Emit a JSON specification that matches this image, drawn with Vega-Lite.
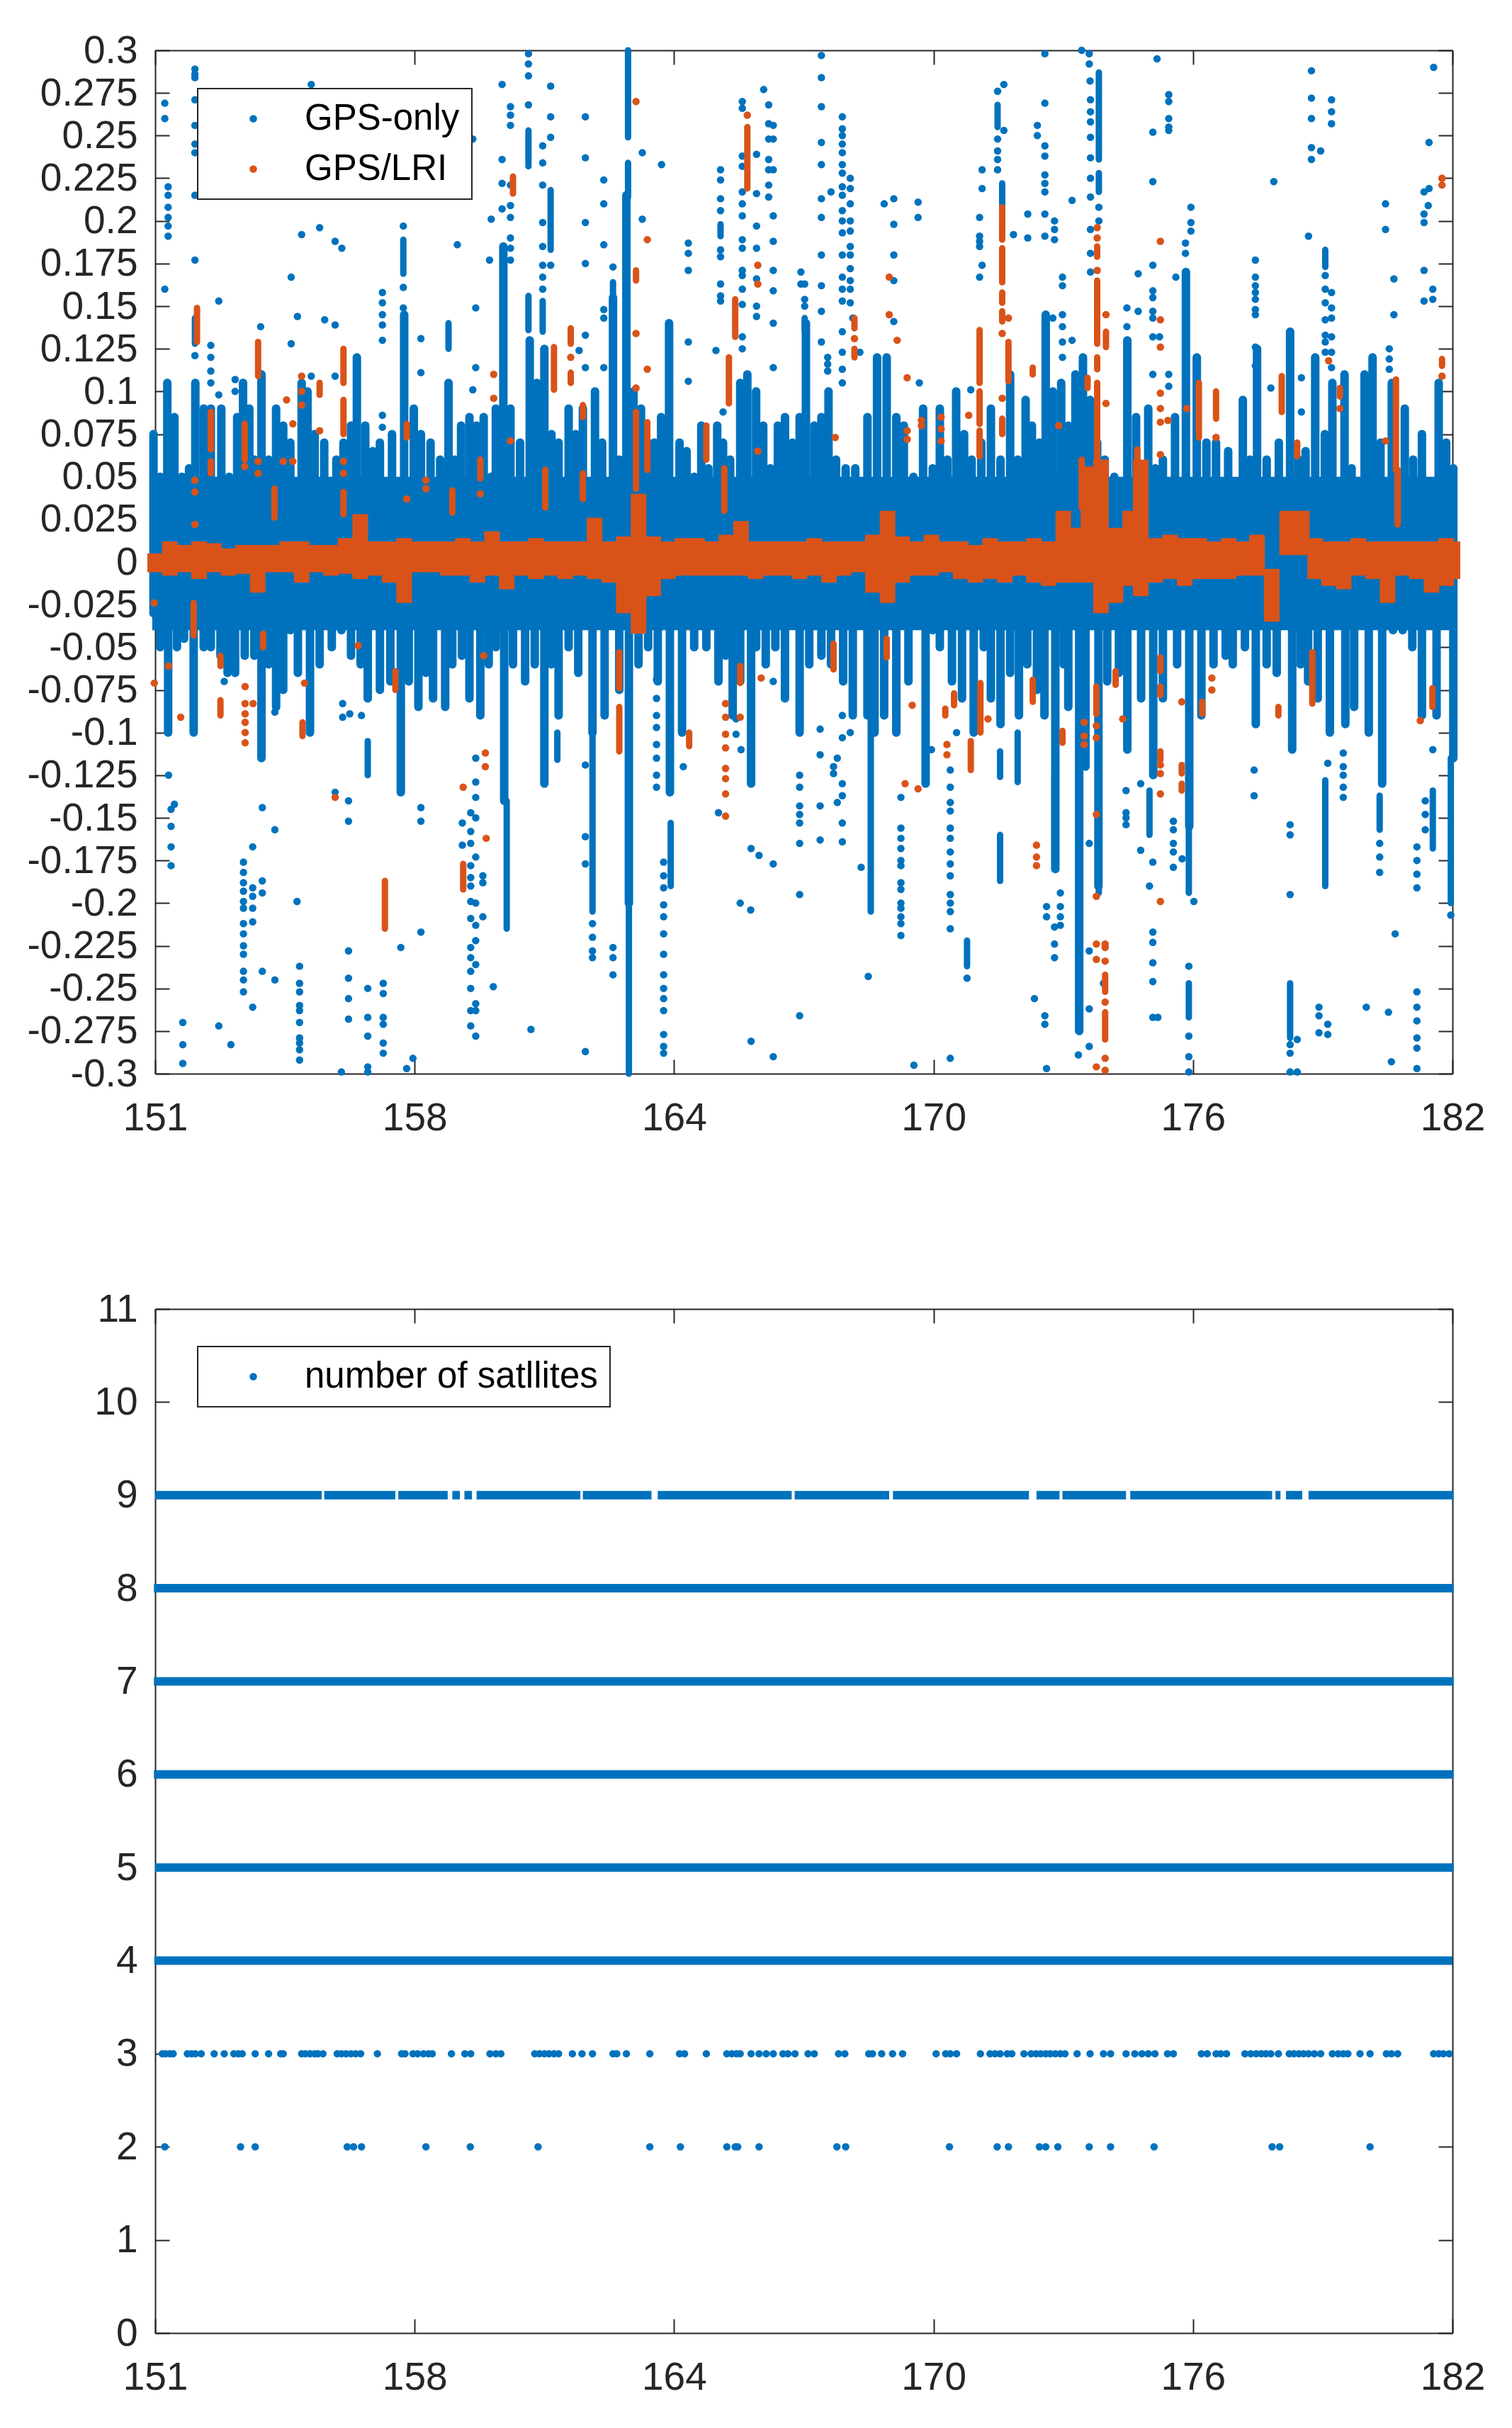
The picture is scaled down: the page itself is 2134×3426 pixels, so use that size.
{
"$schema":"https://vega.github.io/schema/vega-lite/v6.json",
"background":"white",
"autosize":{"type":"pad"},
"padding":{"left":38,"top":44,"right":10,"bottom":10},
"bounds":"flush",
"spacing":332,
"resolve":{"scale":{"color":"independent"},"legend":{"color":"independent"}},
"config":{
"view":{"stroke":null},
"legend":{"strokeWidth":2},
"axis":{"grid":false,"title":null,"domainColor":"#262626","domainWidth":2,"tickColor":"#262626","tickWidth":2,"tickSize":-20,"labelColor":"#262626","labelFont":"Liberation Sans","labelFontSize":55,"labelBound":false,"labelFlush":false,"labelOverlap":false}
},
"datasets":{
"band":[{"d":150.93,"d2":182.03,"lo":-0.04,"hi":0.05}],
"blueEnv":[
{"d":150.96,"v":0.075},{"d":151.12,"v":0.05},{"d":151.29,"v":0.105},{"d":151.46,"v":0.085},{"d":151.64,"v":0.05},{"d":151.81,"v":0.055},{"d":151.96,"v":0.105},{"d":152.16,"v":0.09},{"d":152.33,"v":0.09},{"d":152.58,"v":0.09},{"d":152.77,"v":0.05},{"d":152.96,"v":0.085},{"d":153.1,"v":0.105},{"d":153.25,"v":0.09},{"d":153.37,"v":0.06},{"d":153.54,"v":0.11},{"d":153.71,"v":0.06},{"d":153.89,"v":0.09},{"d":154.06,"v":0.08},{"d":154.23,"v":0.07},{"d":154.5,"v":0.105},{"d":154.64,"v":0.1},{"d":154.81,"v":0.075},{"d":155.04,"v":0.07},{"d":155.33,"v":0.06},{"d":155.5,"v":0.07},{"d":155.68,"v":0.08},{"d":155.82,"v":0.12},{"d":156.02,"v":0.08},{"d":156.2,"v":0.065},{"d":156.37,"v":0.07},{"d":156.66,"v":0.075},{"d":156.95,"v":0.145},{"d":157.18,"v":0.09},{"d":157.35,"v":0.075},{"d":157.58,"v":0.07},{"d":157.81,"v":0.06},{"d":158.01,"v":0.105},{"d":158.16,"v":0.06},{"d":158.31,"v":0.08},{"d":158.51,"v":0.085},{"d":158.68,"v":0.08},{"d":158.85,"v":0.085},{"d":159.03,"v":0.05},{"d":159.14,"v":0.09},{"d":159.32,"v":0.185},{"d":159.49,"v":0.09},{"d":159.72,"v":0.07},{"d":159.95,"v":0.13},{"d":160.12,"v":0.105},{"d":160.3,"v":0.125},{"d":160.47,"v":0.075},{"d":160.64,"v":0.07},{"d":160.88,"v":0.09},{"d":161.05,"v":0.075},{"d":161.22,"v":0.09},{"d":161.51,"v":0.1},{"d":161.68,"v":0.07},{"d":161.94,"v":0.155},{"d":162.09,"v":0.06},{"d":162.26,"v":0.215},{"d":162.43,"v":0.1},{"d":162.61,"v":0.09},{"d":162.78,"v":0.07},{"d":162.93,"v":0.07},{"d":163.09,"v":0.085},{"d":163.28,"v":0.14},{"d":163.53,"v":0.07},{"d":163.7,"v":0.065},{"d":163.88,"v":0.05},{"d":164.05,"v":0.08},{"d":164.22,"v":0.055},{"d":164.43,"v":0.08},{"d":164.57,"v":0.07},{"d":164.74,"v":0.06},{"d":164.98,"v":0.105},{"d":165.15,"v":0.11},
{"d":165.36,"v":0.1},{"d":165.53,"v":0.08},{"d":165.7,"v":0.055},{"d":165.88,"v":0.08},{"d":166.05,"v":0.085},{"d":166.23,"v":0.07},{"d":166.4,"v":0.085},{"d":166.55,"v":0.14},{"d":166.75,"v":0.08},{"d":166.92,"v":0.085},{"d":167.09,"v":0.1},{"d":167.27,"v":0.06},{"d":167.5,"v":0.055},{"d":167.73,"v":0.055},{"d":168.02,"v":0.085},{"d":168.25,"v":0.12},{"d":168.48,"v":0.12},{"d":168.71,"v":0.085},{"d":168.89,"v":0.08},{"d":169.12,"v":0.05},{"d":169.35,"v":0.09},{"d":169.58,"v":0.055},{"d":169.75,"v":0.09},{"d":169.93,"v":0.06},{"d":170.14,"v":0.1},{"d":170.33,"v":0.075},{"d":170.51,"v":0.06},{"d":170.74,"v":0.07},{"d":170.97,"v":0.09},{"d":171.2,"v":0.06},{"d":171.43,"v":0.11},{"d":171.61,"v":0.06},{"d":171.8,"v":0.095},{"d":171.95,"v":0.08},{"d":172.13,"v":0.07},{"d":172.28,"v":0.145},{"d":172.45,"v":0.1},{"d":172.65,"v":0.105},{"d":172.82,"v":0.08},{"d":172.99,"v":0.11},{"d":173.17,"v":0.12},{"d":173.34,"v":0.095},{"d":173.51,"v":0.07},{"d":173.69,"v":0.06},{"d":173.92,"v":0.05},{"d":174.23,"v":0.13},{"d":174.44,"v":0.085},{"d":174.73,"v":0.09},{"d":174.9,"v":0.055},{"d":175.08,"v":0.06},{"d":175.37,"v":0.085},{"d":175.63,"v":0.17},{"d":175.89,"v":0.12},{"d":176.12,"v":0.07},{"d":176.35,"v":0.07},{"d":176.64,"v":0.065},{"d":176.99,"v":0.095},{"d":177.16,"v":0.06},{"d":177.33,"v":0.125},{"d":177.56,"v":0.06},{"d":177.85,"v":0.07},{"d":178.12,"v":0.135},{"d":178.32,"v":0.06},{"d":178.49,"v":0.065},{"d":178.72,"v":0.12},{"d":178.95,"v":0.075},{"d":179.13,"v":0.105},{"d":179.42,"v":0.11},{"d":179.59,"v":0.055},{"d":179.9,"v":0.11},{"d":180.09,"v":0.12},{"d":180.28,"v":0.07},{"d":180.55,"v":0.105},{"d":180.86,"v":0.09},{"d":181.06,"v":0.06},{"d":181.27,"v":0.075},{"d":181.67,"v":0.105},{"d":181.85,"v":0.07},{"d":182.02,"v":0.055},
{"d":150.96,"v":-0.03},{"d":151.12,"v":-0.05},{"d":151.31,"v":-0.1},{"d":151.52,"v":-0.05},{"d":151.69,"v":-0.045},{"d":151.92,"v":-0.1},{"d":152.16,"v":-0.05},{"d":152.33,"v":-0.05},{"d":152.56,"v":-0.055},{"d":152.73,"v":-0.065},{"d":152.91,"v":-0.065},{"d":153.14,"v":-0.055},{"d":153.37,"v":-0.055},{"d":153.54,"v":-0.115},{"d":153.71,"v":-0.06},{"d":153.89,"v":-0.085},{"d":154.06,"v":-0.075},{"d":154.23,"v":-0.04},{"d":154.41,"v":-0.065},{"d":154.7,"v":-0.1},{"d":154.93,"v":-0.06},{"d":155.22,"v":-0.05},{"d":155.45,"v":-0.04},{"d":155.68,"v":-0.055},{"d":155.91,"v":-0.06},{"d":156.08,"v":-0.08},{"d":156.37,"v":-0.075},{"d":156.62,"v":-0.07},{"d":156.87,"v":-0.135},{"d":157.06,"v":-0.07},{"d":157.29,"v":-0.085},{"d":157.47,"v":-0.065},{"d":157.64,"v":-0.08},{"d":157.93,"v":-0.085},{"d":158.1,"v":-0.06},{"d":158.33,"v":-0.055},{"d":158.51,"v":-0.08},{"d":158.77,"v":-0.09},{"d":158.97,"v":-0.06},{"d":159.14,"v":-0.05},{"d":159.34,"v":-0.14},{"d":159.55,"v":-0.06},{"d":159.84,"v":-0.07},{"d":160.07,"v":-0.06},{"d":160.3,"v":-0.13},{"d":160.47,"v":-0.06},{"d":160.64,"v":-0.09},{"d":160.88,"v":-0.05},{"d":161.11,"v":-0.065},{"d":161.45,"v":-0.1},{"d":161.74,"v":-0.09},{"d":162.09,"v":-0.075},{"d":162.32,"v":-0.2},{"d":162.55,"v":-0.06},{"d":162.78,"v":-0.05},{"d":163.01,"v":-0.07},{"d":163.3,"v":-0.135},{"d":163.59,"v":-0.1},{"d":163.88,"v":-0.05},{"d":164.17,"v":-0.05},{"d":164.46,"v":-0.07},{"d":164.63,"v":-0.055},{"d":164.8,"v":-0.09},{"d":164.98,"v":-0.07},{"d":165.24,"v":-0.13},
{"d":165.36,"v":-0.05},{"d":165.59,"v":-0.06},{"d":165.82,"v":-0.05},{"d":166.05,"v":-0.08},{"d":166.4,"v":-0.1},{"d":166.63,"v":-0.06},{"d":166.92,"v":-0.055},{"d":167.15,"v":-0.06},{"d":167.44,"v":-0.07},{"d":167.67,"v":-0.09},{"d":168.02,"v":-0.09},{"d":168.19,"v":-0.1},{"d":168.42,"v":-0.09},{"d":168.71,"v":-0.1},{"d":169.0,"v":-0.07},{"d":169.41,"v":-0.13},{"d":169.58,"v":-0.04},{"d":169.75,"v":-0.05},{"d":170.04,"v":-0.07},{"d":170.28,"v":-0.08},{"d":170.56,"v":-0.1},{"d":170.8,"v":-0.05},{"d":170.97,"v":-0.08},{"d":171.2,"v":-0.095},{"d":171.43,"v":-0.065},{"d":171.64,"v":-0.09},{"d":171.84,"v":-0.06},{"d":172.07,"v":-0.075},{"d":172.25,"v":-0.09},{"d":172.51,"v":-0.18},{"d":172.71,"v":-0.06},{"d":172.82,"v":-0.085},{"d":173.08,"v":-0.275},{"d":173.23,"v":-0.12},{"d":173.54,"v":-0.19},{"d":173.75,"v":-0.07},{"d":174.03,"v":-0.065},{"d":174.23,"v":-0.11},{"d":174.56,"v":-0.08},{"d":174.85,"v":-0.125},{"d":175.08,"v":-0.08},{"d":175.42,"v":-0.06},{"d":175.71,"v":-0.155},{"d":176.0,"v":-0.09},{"d":176.29,"v":-0.06},{"d":176.58,"v":-0.055},{"d":176.75,"v":-0.06},{"d":177.04,"v":-0.05},{"d":177.3,"v":-0.095},{"d":177.56,"v":-0.06},{"d":177.8,"v":-0.065},{"d":178.17,"v":-0.11},{"d":178.37,"v":-0.06},{"d":178.55,"v":-0.07},{"d":178.78,"v":-0.08},{"d":179.07,"v":-0.1},{"d":179.44,"v":-0.095},{"d":179.65,"v":-0.085},{"d":180.0,"v":-0.1},{"d":180.32,"v":-0.13},{"d":180.58,"v":-0.04},{"d":180.81,"v":-0.04},{"d":181.04,"v":-0.05},{"d":181.27,"v":-0.09},{"d":181.62,"v":-0.09},{"d":182.02,"v":-0.115}
],
"blueStr":[
{"d":151.95,"a":0.128,"b":0.143},{"d":153.52,"a":0.07,"b":0.11},{"d":156.93,"a":0.169,"b":0.189},{"d":158.01,"a":0.125,"b":0.14},{"d":159.92,"a":0.232,"b":0.253},{"d":159.92,"a":0.136,"b":0.156},{"d":160.26,"a":0.135,"b":0.153},{"d":160.45,"a":0.183,"b":0.218},{"d":161.94,"a":0.153,"b":0.164},{"d":162.3,"a":0.249,"b":0.3},{"d":162.3,"a":0.214,"b":0.234},{"d":164.51,"a":0.191,"b":0.198},{"d":166.52,"a":0.136,"b":0.143},{"d":171.13,"a":0.255,"b":0.268},{"d":171.24,"a":0.196,"b":0.222},{"d":173.55,"a":0.236,"b":0.287},{"d":173.55,"a":0.217,"b":0.228},{"d":178.96,"a":0.173,"b":0.183},
{"d":156.08,"a":-0.125,"b":-0.105},{"d":159.4,"a":-0.215,"b":-0.14},{"d":160.61,"a":-0.116,"b":-0.1},{"d":161.45,"a":-0.205,"b":-0.1},{"d":162.32,"a":-0.3,"b":-0.2},{"d":163.32,"a":-0.19,"b":-0.153},{"d":168.1,"a":-0.205,"b":-0.09},{"d":169.42,"a":-0.13,"b":-0.094},{"d":170.4,"a":-0.237,"b":-0.222},{"d":171.19,"a":-0.126,"b":-0.111},{"d":171.19,"a":-0.187,"b":-0.16},{"d":171.61,"a":-0.129,"b":-0.1},{"d":172.49,"a":-0.18,"b":-0.125},{"d":173.06,"a":-0.275,"b":-0.1},{"d":173.55,"a":-0.194,"b":-0.115},{"d":174.76,"a":-0.16,"b":-0.134},{"d":175.7,"a":-0.194,"b":-0.155},{"d":175.7,"a":-0.267,"b":-0.247},{"d":178.12,"a":-0.279,"b":-0.247},{"d":178.96,"a":-0.19,"b":-0.128},{"d":180.26,"a":-0.157,"b":-0.137},{"d":181.53,"a":-0.168,"b":-0.134},{"d":181.96,"a":-0.2,"b":-0.115}
],
"pts":[
{"d":151.23,"v":0.269,"s":"GPS-only"},{"d":151.23,"v":0.26,"s":"GPS-only"},{"d":151.23,"v":0.16,"s":"GPS-only"},{"d":151.31,"v":0.22,"s":"GPS-only"},{"d":151.31,"v":0.215,"s":"GPS-only"},{"d":151.31,"v":0.208,"s":"GPS-only"},{"d":151.31,"v":0.202,"s":"GPS-only"},{"d":151.31,"v":0.197,"s":"GPS-only"},{"d":151.31,"v":0.191,"s":"GPS-only"},{"d":151.95,"v":0.289,"s":"GPS-only"},{"d":151.95,"v":0.286,"s":"GPS-only"},{"d":151.95,"v":0.284,"s":"GPS-only"},{"d":151.95,"v":0.271,"s":"GPS-only"},{"d":151.95,"v":0.256,"s":"GPS-only"},{"d":151.95,"v":0.245,"s":"GPS-only"},{"d":151.95,"v":0.24,"s":"GPS-only"},{"d":151.95,"v":0.215,"s":"GPS-only"},{"d":151.95,"v":0.177,"s":"GPS-only"},{"d":151.95,"v":0.121,"s":"GPS-only"},{"d":152.33,"v":0.127,"s":"GPS-only"},{"d":152.33,"v":0.12,"s":"GPS-only"},{"d":152.33,"v":0.112,"s":"GPS-only"},{"d":152.33,"v":0.105,"s":"GPS-only"},{"d":152.52,"v":0.153,"s":"GPS-only"},{"d":152.52,"v":0.098,"s":"GPS-only"},{"d":152.91,"v":0.107,"s":"GPS-only"},{"d":152.91,"v":0.1,"s":"GPS-only"},{"d":153.52,"v":0.138,"s":"GPS-only"},{"d":154.25,"v":0.167,"s":"GPS-only"},{"d":154.25,"v":0.128,"s":"GPS-only"},{"d":154.4,"v":0.144,"s":"GPS-only"},{"d":154.5,"v":0.192,"s":"GPS-only"},{"d":154.73,"v":0.28,"s":"GPS-only"},{"d":154.73,"v":0.109,"s":"GPS-only"},{"d":154.93,"v":0.196,"s":"GPS-only"},{"d":155.05,"v":0.142,"s":"GPS-only"},{"d":155.3,"v":0.188,"s":"GPS-only"},{"d":155.3,"v":0.139,"s":"GPS-only"},{"d":155.3,"v":0.109,"s":"GPS-only"},{"d":155.46,"v":0.184,"s":"GPS-only"},{"d":156.43,"v":0.158,"s":"GPS-only"},{"d":156.43,"v":0.152,"s":"GPS-only"},{"d":156.43,"v":0.145,"s":"GPS-only"},{"d":156.43,"v":0.139,"s":"GPS-only"},{"d":156.43,"v":0.13,"s":"GPS-only"},{"d":156.43,"v":0.086,"s":"GPS-only"},{"d":156.43,"v":0.079,"s":"GPS-only"},{"d":156.93,"v":0.197,"s":"GPS-only"},{"d":156.93,"v":0.161,"s":"GPS-only"},{"d":156.93,"v":0.149,"s":"GPS-only"},{"d":157.35,"v":0.131,"s":"GPS-only"},{"d":157.35,"v":0.111,"s":"GPS-only"},{"d":158.22,"v":0.186,"s":"GPS-only"},{"d":158.59,"v":0.248,"s":"GPS-only"},{"d":158.59,"v":0.101,"s":"GPS-only"},{"d":158.66,"v":0.149,"s":"GPS-only"},{"d":158.66,"v":0.114,"s":"GPS-only"},{"d":158.99,"v":0.177,"s":"GPS-only"},{"d":159.03,"v":0.201,"s":"GPS-only"},{"d":159.29,"v":0.28,"s":"GPS-only"},{"d":159.29,"v":0.236,"s":"GPS-only"},{"d":159.29,"v":0.222,"s":"GPS-only"},{"d":159.29,"v":0.207,"s":"GPS-only"},{"d":159.49,"v":0.267,"s":"GPS-only"},{"d":159.49,"v":0.262,"s":"GPS-only"},{"d":159.49,"v":0.256,"s":"GPS-only"},{"d":159.49,"v":0.221,"s":"GPS-only"},{"d":159.49,"v":0.209,"s":"GPS-only"},{"d":159.49,"v":0.202,"s":"GPS-only"},{"d":159.49,"v":0.19,"s":"GPS-only"},{"d":159.49,"v":0.184,"s":"GPS-only"},{"d":159.49,"v":0.177,"s":"GPS-only"},{"d":159.92,"v":0.298,"s":"GPS-only"},{"d":159.92,"v":0.292,"s":"GPS-only"},{"d":159.92,"v":0.285,"s":"GPS-only"},{"d":159.92,"v":0.268,"s":"GPS-only"},{"d":160.26,"v":0.244,"s":"GPS-only"},{"d":160.26,"v":0.234,"s":"GPS-only"},{"d":160.26,"v":0.221,"s":"GPS-only"},{"d":160.26,"v":0.199,"s":"GPS-only"},{"d":160.26,"v":0.185,"s":"GPS-only"},{"d":160.26,"v":0.174,"s":"GPS-only"},{"d":160.26,"v":0.167,"s":"GPS-only"},{"d":160.26,"v":0.16,"s":"GPS-only"},{"d":160.45,"v":0.279,"s":"GPS-only"},{"d":160.45,"v":0.261,"s":"GPS-only"},{"d":160.45,"v":0.249,"s":"GPS-only"},{"d":160.45,"v":0.174,"s":"GPS-only"},{"d":161.13,"v":0.124,"s":"GPS-only"},{"d":161.28,"v":0.261,"s":"GPS-only"},{"d":161.28,"v":0.237,"s":"GPS-only"},{"d":161.28,"v":0.199,"s":"GPS-only"},{"d":161.28,"v":0.175,"s":"GPS-only"},{"d":161.28,"v":0.133,"s":"GPS-only"},{"d":161.28,"v":0.114,"s":"GPS-only"},{"d":161.72,"v":0.224,"s":"GPS-only"},{"d":161.72,"v":0.21,"s":"GPS-only"},{"d":161.72,"v":0.186,"s":"GPS-only"},{"d":161.72,"v":0.148,"s":"GPS-only"},{"d":161.72,"v":0.143,"s":"GPS-only"},{"d":161.72,"v":0.114,"s":"GPS-only"},{"d":161.94,"v":0.173,"s":"GPS-only"},{"d":162.64,"v":0.24,"s":"GPS-only"},{"d":162.64,"v":0.201,"s":"GPS-only"},{"d":163.1,"v":0.233,"s":"GPS-only"},{"d":163.74,"v":0.187,"s":"GPS-only"},{"d":163.74,"v":0.181,"s":"GPS-only"},{"d":163.74,"v":0.171,"s":"GPS-only"},{"d":163.74,"v":0.129,"s":"GPS-only"},{"d":163.74,"v":0.106,"s":"GPS-only"},{"d":164.4,"v":0.124,"s":"GPS-only"},{"d":164.51,"v":0.23,"s":"GPS-only"},{"d":164.51,"v":0.224,"s":"GPS-only"},{"d":164.51,"v":0.213,"s":"GPS-only"},{"d":164.51,"v":0.206,"s":"GPS-only"},{"d":164.51,"v":0.183,"s":"GPS-only"},{"d":164.51,"v":0.179,"s":"GPS-only"},{"d":164.51,"v":0.163,"s":"GPS-only"},{"d":164.51,"v":0.156,"s":"GPS-only"},{"d":164.51,"v":0.153,"s":"GPS-only"},{"d":164.57,"v":0.088,"s":"GPS-only"},{"d":165.03,"v":0.27,"s":"GPS-only"},{"d":165.03,"v":0.266,"s":"GPS-only"},{"d":165.03,"v":0.238,"s":"GPS-only"},{"d":165.03,"v":0.232,"s":"GPS-only"},{"d":165.03,"v":0.217,"s":"GPS-only"},{"d":165.03,"v":0.21,"s":"GPS-only"},{"d":165.03,"v":0.203,"s":"GPS-only"},{"d":165.03,"v":0.189,"s":"GPS-only"},{"d":165.03,"v":0.184,"s":"GPS-only"},{"d":165.03,"v":0.171,"s":"GPS-only"},{"d":165.03,"v":0.168,"s":"GPS-only"},{"d":165.03,"v":0.16,"s":"GPS-only"},{"d":165.03,"v":0.151,"s":"GPS-only"},{"d":165.03,"v":0.132,"s":"GPS-only"},{"d":165.03,"v":0.125,"s":"GPS-only"},
{"d":165.37,"v":0.239,"s":"GPS-only"},{"d":165.37,"v":0.216,"s":"GPS-only"},{"d":165.37,"v":0.197,"s":"GPS-only"},{"d":165.37,"v":0.184,"s":"GPS-only"},{"d":165.37,"v":0.166,"s":"GPS-only"},{"d":165.37,"v":0.15,"s":"GPS-only"},{"d":165.37,"v":0.144,"s":"GPS-only"},{"d":165.54,"v":0.277,"s":"GPS-only"},{"d":165.66,"v":0.268,"s":"GPS-only"},{"d":165.66,"v":0.257,"s":"GPS-only"},{"d":165.77,"v":0.256,"s":"GPS-only"},{"d":165.77,"v":0.248,"s":"GPS-only"},{"d":165.66,"v":0.248,"s":"GPS-only"},{"d":165.66,"v":0.236,"s":"GPS-only"},{"d":165.66,"v":0.23,"s":"GPS-only"},{"d":165.77,"v":0.23,"s":"GPS-only"},{"d":165.66,"v":0.221,"s":"GPS-only"},{"d":165.66,"v":0.214,"s":"GPS-only"},{"d":165.77,"v":0.203,"s":"GPS-only"},{"d":165.77,"v":0.188,"s":"GPS-only"},{"d":165.77,"v":0.171,"s":"GPS-only"},{"d":165.77,"v":0.159,"s":"GPS-only"},{"d":165.77,"v":0.14,"s":"GPS-only"},{"d":165.77,"v":0.114,"s":"GPS-only"},{"d":166.43,"v":0.17,"s":"GPS-only"},{"d":166.43,"v":0.163,"s":"GPS-only"},{"d":166.52,"v":0.163,"s":"GPS-only"},{"d":166.52,"v":0.154,"s":"GPS-only"},{"d":166.52,"v":0.15,"s":"GPS-only"},{"d":166.92,"v":0.297,"s":"GPS-only"},{"d":166.92,"v":0.284,"s":"GPS-only"},{"d":166.92,"v":0.267,"s":"GPS-only"},{"d":166.92,"v":0.246,"s":"GPS-only"},{"d":166.92,"v":0.233,"s":"GPS-only"},{"d":166.92,"v":0.213,"s":"GPS-only"},{"d":166.92,"v":0.202,"s":"GPS-only"},{"d":166.92,"v":0.18,"s":"GPS-only"},{"d":166.92,"v":0.162,"s":"GPS-only"},{"d":166.92,"v":0.147,"s":"GPS-only"},{"d":166.92,"v":0.129,"s":"GPS-only"},{"d":167.07,"v":0.12,"s":"GPS-only"},{"d":167.07,"v":0.116,"s":"GPS-only"},{"d":167.07,"v":0.112,"s":"GPS-only"},{"d":167.15,"v":0.217,"s":"GPS-only"},{"d":167.42,"v":0.261,"s":"GPS-only"},{"d":167.42,"v":0.254,"s":"GPS-only"},{"d":167.42,"v":0.25,"s":"GPS-only"},{"d":167.42,"v":0.245,"s":"GPS-only"},{"d":167.42,"v":0.24,"s":"GPS-only"},{"d":167.42,"v":0.233,"s":"GPS-only"},{"d":167.42,"v":0.228,"s":"GPS-only"},{"d":167.42,"v":0.22,"s":"GPS-only"},{"d":167.42,"v":0.215,"s":"GPS-only"},{"d":167.42,"v":0.206,"s":"GPS-only"},{"d":167.42,"v":0.2,"s":"GPS-only"},{"d":167.42,"v":0.193,"s":"GPS-only"},{"d":167.42,"v":0.18,"s":"GPS-only"},{"d":167.42,"v":0.167,"s":"GPS-only"},{"d":167.42,"v":0.16,"s":"GPS-only"},{"d":167.42,"v":0.153,"s":"GPS-only"},{"d":167.42,"v":0.135,"s":"GPS-only"},{"d":167.42,"v":0.123,"s":"GPS-only"},{"d":167.42,"v":0.113,"s":"GPS-only"},{"d":167.42,"v":0.105,"s":"GPS-only"},{"d":167.61,"v":0.225,"s":"GPS-only"},{"d":167.61,"v":0.219,"s":"GPS-only"},{"d":167.61,"v":0.21,"s":"GPS-only"},{"d":167.61,"v":0.2,"s":"GPS-only"},{"d":167.61,"v":0.194,"s":"GPS-only"},{"d":167.61,"v":0.185,"s":"GPS-only"},{"d":167.61,"v":0.18,"s":"GPS-only"},{"d":167.61,"v":0.172,"s":"GPS-only"},{"d":167.61,"v":0.165,"s":"GPS-only"},{"d":167.61,"v":0.16,"s":"GPS-only"},{"d":167.61,"v":0.152,"s":"GPS-only"},{"d":167.67,"v":0.143,"s":"GPS-only"},{"d":167.84,"v":0.123,"s":"GPS-only"},{"d":168.42,"v":0.21,"s":"GPS-only"},{"d":168.65,"v":0.213,"s":"GPS-only"},{"d":168.65,"v":0.198,"s":"GPS-only"},{"d":168.65,"v":0.18,"s":"GPS-only"},{"d":168.65,"v":0.165,"s":"GPS-only"},{"d":168.65,"v":0.141,"s":"GPS-only"},{"d":169.23,"v":0.211,"s":"GPS-only"},{"d":169.23,"v":0.202,"s":"GPS-only"},{"d":169.26,"v":0.105,"s":"GPS-only"},{"d":170.49,"v":0.101,"s":"GPS-only"},{"d":170.76,"v":0.23,"s":"GPS-only"},{"d":170.76,"v":0.219,"s":"GPS-only"},{"d":170.76,"v":0.174,"s":"GPS-only"},{"d":170.7,"v":0.202,"s":"GPS-only"},{"d":170.7,"v":0.191,"s":"GPS-only"},{"d":170.7,"v":0.188,"s":"GPS-only"},{"d":170.7,"v":0.185,"s":"GPS-only"},{"d":170.7,"v":0.167,"s":"GPS-only"},{"d":171.13,"v":0.276,"s":"GPS-only"},{"d":171.28,"v":0.28,"s":"GPS-only"},{"d":171.28,"v":0.253,"s":"GPS-only"},{"d":171.13,"v":0.248,"s":"GPS-only"},{"d":171.13,"v":0.241,"s":"GPS-only"},{"d":171.13,"v":0.236,"s":"GPS-only"},{"d":171.13,"v":0.23,"s":"GPS-only"},{"d":171.51,"v":0.192,"s":"GPS-only"},{"d":171.85,"v":0.204,"s":"GPS-only"},{"d":171.85,"v":0.19,"s":"GPS-only"},{"d":172.08,"v":0.256,"s":"GPS-only"},{"d":172.08,"v":0.25,"s":"GPS-only"},{"d":172.26,"v":0.298,"s":"GPS-only"},{"d":172.26,"v":0.269,"s":"GPS-only"},{"d":172.26,"v":0.244,"s":"GPS-only"},{"d":172.26,"v":0.238,"s":"GPS-only"},{"d":172.26,"v":0.227,"s":"GPS-only"},{"d":172.26,"v":0.222,"s":"GPS-only"},{"d":172.26,"v":0.217,"s":"GPS-only"},{"d":172.26,"v":0.204,"s":"GPS-only"},{"d":172.26,"v":0.191,"s":"GPS-only"},{"d":172.49,"v":0.2,"s":"GPS-only"},{"d":172.49,"v":0.195,"s":"GPS-only"},{"d":172.49,"v":0.189,"s":"GPS-only"},{"d":172.68,"v":0.167,"s":"GPS-only"},{"d":172.68,"v":0.162,"s":"GPS-only"},{"d":172.45,"v":0.143,"s":"GPS-only"},{"d":172.68,"v":0.145,"s":"GPS-only"},{"d":172.68,"v":0.138,"s":"GPS-only"},{"d":172.68,"v":0.129,"s":"GPS-only"},{"d":172.68,"v":0.12,"s":"GPS-only"},{"d":172.91,"v":0.212,"s":"GPS-only"},{"d":172.91,"v":0.13,"s":"GPS-only"},{"d":173.14,"v":0.3,"s":"GPS-only"},{"d":173.32,"v":0.298,"s":"GPS-only"},{"d":173.32,"v":0.292,"s":"GPS-only"},{"d":173.34,"v":0.282,"s":"GPS-only"},{"d":173.35,"v":0.271,"s":"GPS-only"},{"d":173.35,"v":0.264,"s":"GPS-only"},{"d":173.35,"v":0.258,"s":"GPS-only"},{"d":173.35,"v":0.249,"s":"GPS-only"},{"d":173.35,"v":0.237,"s":"GPS-only"},{"d":173.35,"v":0.225,"s":"GPS-only"},{"d":173.35,"v":0.214,"s":"GPS-only"},{"d":173.35,"v":0.195,"s":"GPS-only"},{"d":173.35,"v":0.181,"s":"GPS-only"},{"d":173.35,"v":0.17,"s":"GPS-only"},{"d":173.55,"v":0.208,"s":"GPS-only"},{"d":173.55,"v":0.2,"s":"GPS-only"},{"d":174.22,"v":0.149,"s":"GPS-only"},{"d":174.22,"v":0.138,"s":"GPS-only"},{"d":174.49,"v":0.169,"s":"GPS-only"},{"d":174.49,"v":0.147,"s":"GPS-only"},{"d":174.84,"v":0.252,"s":"GPS-only"},{"d":174.84,"v":0.223,"s":"GPS-only"},{"d":174.84,"v":0.174,"s":"GPS-only"},{"d":174.84,"v":0.159,"s":"GPS-only"},{"d":174.84,"v":0.155,"s":"GPS-only"},{"d":174.84,"v":0.147,"s":"GPS-only"},{"d":174.84,"v":0.143,"s":"GPS-only"},{"d":174.84,"v":0.132,"s":"GPS-only"},{"d":174.84,"v":0.11,"s":"GPS-only"},{"d":174.94,"v":0.295,"s":"GPS-only"},{"d":175.22,"v":0.274,"s":"GPS-only"},{"d":175.22,"v":0.27,"s":"GPS-only"},{"d":175.22,"v":0.26,"s":"GPS-only"},{"d":175.22,"v":0.255,"s":"GPS-only"},{"d":175.22,"v":0.253,"s":"GPS-only"},{"d":175.0,"v":0.132,"s":"GPS-only"},{"d":175.22,"v":0.11,"s":"GPS-only"},{"d":175.22,"v":0.103,"s":"GPS-only"},{"d":175.39,"v":0.167,"s":"GPS-only"},{"d":175.62,"v":0.187,"s":"GPS-only"},{"d":175.62,"v":0.181,"s":"GPS-only"},{"d":175.75,"v":0.208,"s":"GPS-only"},{"d":175.75,"v":0.199,"s":"GPS-only"},{"d":175.75,"v":0.194,"s":"GPS-only"},{"d":177.29,"v":0.177,"s":"GPS-only"},{"d":177.29,"v":0.167,"s":"GPS-only"},{"d":177.29,"v":0.162,"s":"GPS-only"},{"d":177.29,"v":0.158,"s":"GPS-only"},{"d":177.29,"v":0.154,"s":"GPS-only"},{"d":177.29,"v":0.148,"s":"GPS-only"},{"d":177.29,"v":0.145,"s":"GPS-only"},{"d":177.29,"v":0.126,"s":"GPS-only"},{"d":177.29,"v":0.115,"s":"GPS-only"},{"d":177.73,"v":0.223,"s":"GPS-only"},{"d":177.66,"v":0.102,"s":"GPS-only"},{"d":178.39,"v":0.108,"s":"GPS-only"},{"d":178.39,"v":0.088,"s":"GPS-only"},{"d":178.56,"v":0.191,"s":"GPS-only"},{"d":178.63,"v":0.288,"s":"GPS-only"},{"d":178.63,"v":0.272,"s":"GPS-only"},{"d":178.63,"v":0.26,"s":"GPS-only"},{"d":178.63,"v":0.243,"s":"GPS-only"},{"d":178.63,"v":0.236,"s":"GPS-only"},{"d":178.85,"v":0.241,"s":"GPS-only"},{"d":178.96,"v":0.168,"s":"GPS-only"},{"d":178.96,"v":0.16,"s":"GPS-only"},{"d":178.96,"v":0.152,"s":"GPS-only"},{"d":178.96,"v":0.142,"s":"GPS-only"},{"d":178.96,"v":0.133,"s":"GPS-only"},{"d":178.96,"v":0.129,"s":"GPS-only"},{"d":178.96,"v":0.123,"s":"GPS-only"},{"d":179.11,"v":0.271,"s":"GPS-only"},{"d":179.11,"v":0.264,"s":"GPS-only"},{"d":179.11,"v":0.257,"s":"GPS-only"},{"d":179.11,"v":0.158,"s":"GPS-only"},{"d":179.11,"v":0.149,"s":"GPS-only"},{"d":179.11,"v":0.143,"s":"GPS-only"},{"d":179.11,"v":0.132,"s":"GPS-only"},{"d":179.11,"v":0.123,"s":"GPS-only"},{"d":179.11,"v":0.114,"s":"GPS-only"},{"d":180.4,"v":0.21,"s":"GPS-only"},{"d":180.4,"v":0.195,"s":"GPS-only"},{"d":180.6,"v":0.166,"s":"GPS-only"},{"d":180.6,"v":0.145,"s":"GPS-only"},{"d":180.49,"v":0.125,"s":"GPS-only"},{"d":180.49,"v":0.119,"s":"GPS-only"},{"d":180.49,"v":0.113,"s":"GPS-only"},{"d":181.32,"v":0.217,"s":"GPS-only"},{"d":181.32,"v":0.204,"s":"GPS-only"},{"d":181.32,"v":0.199,"s":"GPS-only"},{"d":181.32,"v":0.171,"s":"GPS-only"},{"d":181.32,"v":0.153,"s":"GPS-only"},{"d":181.44,"v":0.246,"s":"GPS-only"},{"d":181.44,"v":0.219,"s":"GPS-only"},{"d":181.55,"v":0.29,"s":"GPS-only"},{"d":181.53,"v":0.16,"s":"GPS-only"},{"d":181.53,"v":0.154,"s":"GPS-only"},{"d":181.42,"v":0.209,"s":"GPS-only"},
{"d":151.32,"v":-0.125,"s":"GPS-only"},{"d":151.38,"v":-0.145,"s":"GPS-only"},{"d":151.46,"v":-0.142,"s":"GPS-only"},{"d":151.38,"v":-0.155,"s":"GPS-only"},{"d":151.38,"v":-0.167,"s":"GPS-only"},{"d":151.38,"v":-0.178,"s":"GPS-only"},{"d":151.66,"v":-0.27,"s":"GPS-only"},{"d":151.66,"v":-0.283,"s":"GPS-only"},{"d":151.66,"v":-0.294,"s":"GPS-only"},{"d":152.52,"v":-0.272,"s":"GPS-only"},{"d":152.81,"v":-0.283,"s":"GPS-only"},{"d":152.65,"v":-0.07,"s":"GPS-only"},{"d":153.11,"v":-0.176,"s":"GPS-only"},{"d":153.11,"v":-0.182,"s":"GPS-only"},{"d":153.11,"v":-0.188,"s":"GPS-only"},{"d":153.11,"v":-0.193,"s":"GPS-only"},{"d":153.11,"v":-0.199,"s":"GPS-only"},{"d":153.11,"v":-0.203,"s":"GPS-only"},{"d":153.11,"v":-0.212,"s":"GPS-only"},{"d":153.11,"v":-0.218,"s":"GPS-only"},{"d":153.11,"v":-0.225,"s":"GPS-only"},{"d":153.11,"v":-0.23,"s":"GPS-only"},{"d":153.11,"v":-0.24,"s":"GPS-only"},{"d":153.11,"v":-0.245,"s":"GPS-only"},{"d":153.11,"v":-0.252,"s":"GPS-only"},{"d":153.33,"v":-0.167,"s":"GPS-only"},{"d":153.33,"v":-0.191,"s":"GPS-only"},{"d":153.33,"v":-0.196,"s":"GPS-only"},{"d":153.33,"v":-0.203,"s":"GPS-only"},{"d":153.33,"v":-0.211,"s":"GPS-only"},{"d":153.33,"v":-0.261,"s":"GPS-only"},{"d":153.56,"v":-0.144,"s":"GPS-only"},{"d":153.56,"v":-0.187,"s":"GPS-only"},{"d":153.56,"v":-0.194,"s":"GPS-only"},{"d":153.56,"v":-0.24,"s":"GPS-only"},{"d":153.86,"v":-0.088,"s":"GPS-only"},{"d":153.86,"v":-0.157,"s":"GPS-only"},{"d":153.86,"v":-0.245,"s":"GPS-only"},{"d":154.39,"v":-0.199,"s":"GPS-only"},{"d":154.45,"v":-0.237,"s":"GPS-only"},{"d":154.45,"v":-0.247,"s":"GPS-only"},{"d":154.45,"v":-0.252,"s":"GPS-only"},{"d":154.45,"v":-0.26,"s":"GPS-only"},{"d":154.45,"v":-0.263,"s":"GPS-only"},{"d":154.45,"v":-0.27,"s":"GPS-only"},{"d":154.45,"v":-0.279,"s":"GPS-only"},{"d":154.45,"v":-0.282,"s":"GPS-only"},{"d":154.45,"v":-0.286,"s":"GPS-only"},{"d":154.45,"v":-0.292,"s":"GPS-only"},{"d":155.3,"v":-0.135,"s":"GPS-only"},{"d":155.45,"v":-0.299,"s":"GPS-only"},{"d":155.62,"v":-0.14,"s":"GPS-only"},{"d":155.62,"v":-0.152,"s":"GPS-only"},{"d":155.62,"v":-0.228,"s":"GPS-only"},{"d":155.62,"v":-0.244,"s":"GPS-only"},{"d":155.62,"v":-0.256,"s":"GPS-only"},{"d":155.62,"v":-0.268,"s":"GPS-only"},{"d":155.48,"v":-0.083,"s":"GPS-only"},{"d":155.48,"v":-0.091,"s":"GPS-only"},{"d":155.65,"v":-0.089,"s":"GPS-only"},{"d":155.93,"v":-0.09,"s":"GPS-only"},{"d":156.08,"v":-0.25,"s":"GPS-only"},{"d":156.08,"v":-0.267,"s":"GPS-only"},{"d":156.08,"v":-0.278,"s":"GPS-only"},{"d":156.08,"v":-0.296,"s":"GPS-only"},{"d":156.08,"v":-0.299,"s":"GPS-only"},{"d":156.45,"v":-0.247,"s":"GPS-only"},{"d":156.45,"v":-0.253,"s":"GPS-only"},{"d":156.45,"v":-0.267,"s":"GPS-only"},{"d":156.45,"v":-0.271,"s":"GPS-only"},{"d":156.45,"v":-0.282,"s":"GPS-only"},{"d":156.45,"v":-0.288,"s":"GPS-only"},{"d":156.87,"v":-0.226,"s":"GPS-only"},{"d":157.01,"v":-0.297,"s":"GPS-only"},{"d":157.16,"v":-0.291,"s":"GPS-only"},{"d":157.35,"v":-0.144,"s":"GPS-only"},{"d":157.35,"v":-0.152,"s":"GPS-only"},{"d":157.35,"v":-0.217,"s":"GPS-only"},{"d":158.66,"v":-0.115,"s":"GPS-only"},{"d":158.66,"v":-0.129,"s":"GPS-only"},{"d":158.66,"v":-0.138,"s":"GPS-only"},{"d":158.54,"v":-0.147,"s":"GPS-only"},{"d":158.66,"v":-0.15,"s":"GPS-only"},{"d":158.34,"v":-0.153,"s":"GPS-only"},{"d":158.54,"v":-0.158,"s":"GPS-only"},{"d":158.34,"v":-0.166,"s":"GPS-only"},{"d":158.54,"v":-0.165,"s":"GPS-only"},{"d":158.66,"v":-0.173,"s":"GPS-only"},{"d":158.54,"v":-0.178,"s":"GPS-only"},{"d":158.54,"v":-0.185,"s":"GPS-only"},{"d":158.54,"v":-0.19,"s":"GPS-only"},{"d":158.83,"v":-0.188,"s":"GPS-only"},{"d":158.83,"v":-0.184,"s":"GPS-only"},{"d":158.54,"v":-0.199,"s":"GPS-only"},{"d":158.66,"v":-0.2,"s":"GPS-only"},{"d":158.54,"v":-0.209,"s":"GPS-only"},{"d":158.83,"v":-0.208,"s":"GPS-only"},{"d":158.66,"v":-0.213,"s":"GPS-only"},{"d":158.66,"v":-0.222,"s":"GPS-only"},{"d":158.54,"v":-0.226,"s":"GPS-only"},{"d":158.54,"v":-0.232,"s":"GPS-only"},{"d":158.54,"v":-0.24,"s":"GPS-only"},{"d":158.66,"v":-0.236,"s":"GPS-only"},{"d":158.54,"v":-0.25,"s":"GPS-only"},{"d":158.54,"v":-0.263,"s":"GPS-only"},{"d":158.66,"v":-0.259,"s":"GPS-only"},{"d":158.66,"v":-0.263,"s":"GPS-only"},{"d":158.54,"v":-0.272,"s":"GPS-only"},{"d":158.66,"v":-0.278,"s":"GPS-only"},{"d":159.08,"v":-0.249,"s":"GPS-only"},{"d":159.98,"v":-0.274,"s":"GPS-only"},{"d":161.28,"v":-0.287,"s":"GPS-only"},{"d":161.28,"v":-0.119,"s":"GPS-only"},{"d":161.28,"v":-0.161,"s":"GPS-only"},{"d":161.28,"v":-0.177,"s":"GPS-only"},{"d":161.45,"v":-0.212,"s":"GPS-only"},{"d":161.45,"v":-0.22,"s":"GPS-only"},{"d":161.45,"v":-0.228,"s":"GPS-only"},{"d":161.45,"v":-0.232,"s":"GPS-only"},{"d":161.94,"v":-0.226,"s":"GPS-only"},{"d":161.94,"v":-0.232,"s":"GPS-only"},{"d":161.94,"v":-0.242,"s":"GPS-only"},{"d":162.98,"v":-0.069,"s":"GPS-only"},{"d":162.98,"v":-0.08,"s":"GPS-only"},{"d":162.98,"v":-0.09,"s":"GPS-only"},{"d":162.98,"v":-0.097,"s":"GPS-only"},{"d":162.98,"v":-0.107,"s":"GPS-only"},{"d":162.98,"v":-0.115,"s":"GPS-only"},{"d":162.98,"v":-0.125,"s":"GPS-only"},{"d":162.98,"v":-0.132,"s":"GPS-only"},{"d":163.62,"v":-0.12,"s":"GPS-only"},{"d":163.15,"v":-0.176,"s":"GPS-only"},{"d":163.15,"v":-0.184,"s":"GPS-only"},{"d":163.15,"v":-0.191,"s":"GPS-only"},{"d":163.15,"v":-0.201,"s":"GPS-only"},{"d":163.15,"v":-0.208,"s":"GPS-only"},{"d":163.15,"v":-0.218,"s":"GPS-only"},{"d":163.15,"v":-0.23,"s":"GPS-only"},{"d":163.15,"v":-0.242,"s":"GPS-only"},{"d":163.15,"v":-0.25,"s":"GPS-only"},{"d":163.15,"v":-0.256,"s":"GPS-only"},{"d":163.15,"v":-0.263,"s":"GPS-only"},{"d":163.15,"v":-0.277,"s":"GPS-only"},{"d":163.15,"v":-0.284,"s":"GPS-only"},{"d":163.15,"v":-0.288,"s":"GPS-only"},{"d":164.46,"v":-0.147,"s":"GPS-only"},{"d":164.88,"v":-0.092,"s":"GPS-only"},{"d":164.88,"v":-0.101,"s":"GPS-only"},{"d":165.0,"v":-0.11,"s":"GPS-only"},{"d":164.98,"v":-0.2,"s":"GPS-only"},{"d":165.23,"v":-0.204,"s":"GPS-only"},{"d":165.24,"v":-0.168,"s":"GPS-only"},{"d":165.24,"v":-0.281,"s":"GPS-only"},
{"d":165.77,"v":-0.07,"s":"GPS-only"},{"d":165.77,"v":-0.177,"s":"GPS-only"},{"d":165.77,"v":-0.29,"s":"GPS-only"},{"d":165.43,"v":-0.172,"s":"GPS-only"},{"d":166.4,"v":-0.125,"s":"GPS-only"},{"d":166.4,"v":-0.132,"s":"GPS-only"},{"d":166.4,"v":-0.143,"s":"GPS-only"},{"d":166.4,"v":-0.148,"s":"GPS-only"},{"d":166.4,"v":-0.153,"s":"GPS-only"},{"d":166.4,"v":-0.165,"s":"GPS-only"},{"d":166.4,"v":-0.195,"s":"GPS-only"},{"d":166.4,"v":-0.266,"s":"GPS-only"},{"d":166.89,"v":-0.098,"s":"GPS-only"},{"d":166.89,"v":-0.113,"s":"GPS-only"},{"d":166.89,"v":-0.143,"s":"GPS-only"},{"d":166.89,"v":-0.163,"s":"GPS-only"},{"d":167.21,"v":-0.12,"s":"GPS-only"},{"d":167.21,"v":-0.124,"s":"GPS-only"},{"d":167.42,"v":-0.09,"s":"GPS-only"},{"d":167.42,"v":-0.103,"s":"GPS-only"},{"d":167.3,"v":-0.115,"s":"GPS-only"},{"d":167.42,"v":-0.13,"s":"GPS-only"},{"d":167.42,"v":-0.137,"s":"GPS-only"},{"d":167.3,"v":-0.141,"s":"GPS-only"},{"d":167.42,"v":-0.153,"s":"GPS-only"},{"d":167.42,"v":-0.164,"s":"GPS-only"},{"d":167.61,"v":-0.1,"s":"GPS-only"},{"d":168.04,"v":-0.243,"s":"GPS-only"},{"d":167.87,"v":-0.179,"s":"GPS-only"},{"d":168.82,"v":-0.138,"s":"GPS-only"},{"d":168.82,"v":-0.156,"s":"GPS-only"},{"d":168.82,"v":-0.162,"s":"GPS-only"},{"d":168.82,"v":-0.168,"s":"GPS-only"},{"d":168.82,"v":-0.175,"s":"GPS-only"},{"d":168.82,"v":-0.178,"s":"GPS-only"},{"d":168.82,"v":-0.188,"s":"GPS-only"},{"d":168.82,"v":-0.192,"s":"GPS-only"},{"d":168.82,"v":-0.2,"s":"GPS-only"},{"d":168.82,"v":-0.203,"s":"GPS-only"},{"d":168.82,"v":-0.208,"s":"GPS-only"},{"d":168.82,"v":-0.212,"s":"GPS-only"},{"d":168.82,"v":-0.219,"s":"GPS-only"},{"d":169.13,"v":-0.295,"s":"GPS-only"},{"d":169.55,"v":-0.11,"s":"GPS-only"},{"d":170.0,"v":-0.291,"s":"GPS-only"},{"d":170.0,"v":-0.122,"s":"GPS-only"},{"d":170.0,"v":-0.132,"s":"GPS-only"},{"d":170.0,"v":-0.141,"s":"GPS-only"},{"d":170.0,"v":-0.146,"s":"GPS-only"},{"d":170.0,"v":-0.156,"s":"GPS-only"},{"d":170.0,"v":-0.162,"s":"GPS-only"},{"d":170.0,"v":-0.17,"s":"GPS-only"},{"d":170.0,"v":-0.177,"s":"GPS-only"},{"d":170.0,"v":-0.184,"s":"GPS-only"},{"d":170.0,"v":-0.195,"s":"GPS-only"},{"d":170.0,"v":-0.2,"s":"GPS-only"},{"d":170.0,"v":-0.205,"s":"GPS-only"},{"d":170.0,"v":-0.215,"s":"GPS-only"},{"d":170.15,"v":-0.1,"s":"GPS-only"},{"d":170.4,"v":-0.244,"s":"GPS-only"},{"d":172.01,"v":-0.256,"s":"GPS-only"},{"d":172.3,"v":-0.202,"s":"GPS-only"},{"d":172.3,"v":-0.208,"s":"GPS-only"},{"d":172.26,"v":-0.266,"s":"GPS-only"},{"d":172.26,"v":-0.271,"s":"GPS-only"},{"d":172.3,"v":-0.297,"s":"GPS-only"},{"d":172.49,"v":-0.224,"s":"GPS-only"},{"d":172.49,"v":-0.232,"s":"GPS-only"},{"d":172.49,"v":-0.214,"s":"GPS-only"},{"d":172.63,"v":-0.194,"s":"GPS-only"},{"d":172.63,"v":-0.202,"s":"GPS-only"},{"d":172.63,"v":-0.208,"s":"GPS-only"},{"d":172.63,"v":-0.213,"s":"GPS-only"},{"d":173.06,"v":-0.289,"s":"GPS-only"},{"d":173.32,"v":-0.228,"s":"GPS-only"},{"d":173.32,"v":-0.262,"s":"GPS-only"},{"d":173.32,"v":-0.284,"s":"GPS-only"},{"d":173.32,"v":-0.165,"s":"GPS-only"},{"d":173.66,"v":-0.247,"s":"GPS-only"},{"d":174.2,"v":-0.134,"s":"GPS-only"},{"d":174.2,"v":-0.147,"s":"GPS-only"},{"d":174.2,"v":-0.15,"s":"GPS-only"},{"d":174.2,"v":-0.154,"s":"GPS-only"},{"d":174.55,"v":-0.169,"s":"GPS-only"},{"d":174.55,"v":-0.13,"s":"GPS-only"},{"d":174.76,"v":-0.19,"s":"GPS-only"},{"d":174.84,"v":-0.176,"s":"GPS-only"},{"d":174.84,"v":-0.217,"s":"GPS-only"},{"d":174.84,"v":-0.223,"s":"GPS-only"},{"d":174.84,"v":-0.235,"s":"GPS-only"},{"d":174.84,"v":-0.246,"s":"GPS-only"},{"d":174.84,"v":-0.267,"s":"GPS-only"},{"d":174.96,"v":-0.267,"s":"GPS-only"},{"d":175.33,"v":-0.152,"s":"GPS-only"},{"d":175.33,"v":-0.157,"s":"GPS-only"},{"d":175.33,"v":-0.165,"s":"GPS-only"},{"d":175.33,"v":-0.17,"s":"GPS-only"},{"d":175.33,"v":-0.179,"s":"GPS-only"},{"d":175.54,"v":-0.174,"s":"GPS-only"},{"d":175.7,"v":-0.237,"s":"GPS-only"},{"d":175.7,"v":-0.278,"s":"GPS-only"},{"d":175.7,"v":-0.29,"s":"GPS-only"},{"d":175.7,"v":-0.299,"s":"GPS-only"},{"d":175.82,"v":-0.199,"s":"GPS-only"},{"d":177.26,"v":-0.122,"s":"GPS-only"},{"d":177.26,"v":-0.137,"s":"GPS-only"},{"d":178.12,"v":-0.154,"s":"GPS-only"},{"d":178.12,"v":-0.16,"s":"GPS-only"},{"d":178.12,"v":-0.195,"s":"GPS-only"},{"d":178.12,"v":-0.283,"s":"GPS-only"},{"d":178.12,"v":-0.288,"s":"GPS-only"},{"d":178.12,"v":-0.299,"s":"GPS-only"},{"d":178.29,"v":-0.28,"s":"GPS-only"},{"d":178.29,"v":-0.299,"s":"GPS-only"},{"d":179.02,"v":-0.118,"s":"GPS-only"},{"d":179.39,"v":-0.112,"s":"GPS-only"},{"d":179.39,"v":-0.12,"s":"GPS-only"},{"d":179.39,"v":-0.125,"s":"GPS-only"},{"d":179.39,"v":-0.132,"s":"GPS-only"},{"d":179.39,"v":-0.138,"s":"GPS-only"},{"d":178.81,"v":-0.261,"s":"GPS-only"},{"d":178.81,"v":-0.266,"s":"GPS-only"},{"d":178.81,"v":-0.276,"s":"GPS-only"},{"d":179.02,"v":-0.271,"s":"GPS-only"},{"d":179.02,"v":-0.277,"s":"GPS-only"},{"d":179.94,"v":-0.261,"s":"GPS-only"},{"d":180.47,"v":-0.264,"s":"GPS-only"},{"d":180.54,"v":-0.293,"s":"GPS-only"},{"d":180.63,"v":-0.218,"s":"GPS-only"},{"d":180.26,"v":-0.165,"s":"GPS-only"},{"d":180.26,"v":-0.173,"s":"GPS-only"},{"d":180.26,"v":-0.182,"s":"GPS-only"},{"d":181.15,"v":-0.167,"s":"GPS-only"},{"d":181.15,"v":-0.175,"s":"GPS-only"},{"d":181.15,"v":-0.183,"s":"GPS-only"},{"d":181.15,"v":-0.191,"s":"GPS-only"},{"d":181.15,"v":-0.252,"s":"GPS-only"},{"d":181.15,"v":-0.261,"s":"GPS-only"},{"d":181.15,"v":-0.269,"s":"GPS-only"},{"d":181.15,"v":-0.279,"s":"GPS-only"},{"d":181.15,"v":-0.285,"s":"GPS-only"},{"d":181.15,"v":-0.297,"s":"GPS-only"},{"d":181.35,"v":-0.14,"s":"GPS-only"},{"d":181.35,"v":-0.148,"s":"GPS-only"},{"d":181.35,"v":-0.157,"s":"GPS-only"},{"d":181.96,"v":-0.207,"s":"GPS-only"},{"d":181.53,"v":-0.11,"s":"GPS-only"},
{"d":151.95,"v":0.048,"s":"GPS/LRI"},{"d":151.95,"v":0.041,"s":"GPS/LRI"},{"d":151.95,"v":0.022,"s":"GPS/LRI"},{"d":153.14,"v":0.056,"s":"GPS/LRI"},{"d":153.46,"v":0.059,"s":"GPS/LRI"},{"d":153.46,"v":0.052,"s":"GPS/LRI"},{"d":154.14,"v":0.095,"s":"GPS/LRI"},{"d":154.29,"v":0.081,"s":"GPS/LRI"},{"d":154.06,"v":0.059,"s":"GPS/LRI"},{"d":154.29,"v":0.059,"s":"GPS/LRI"},{"d":154.5,"v":0.109,"s":"GPS/LRI"},{"d":154.5,"v":0.1,"s":"GPS/LRI"},{"d":154.5,"v":0.092,"s":"GPS/LRI"},{"d":154.93,"v":0.077,"s":"GPS/LRI"},{"d":155.5,"v":0.059,"s":"GPS/LRI"},{"d":155.5,"v":0.052,"s":"GPS/LRI"},{"d":157.01,"v":0.037,"s":"GPS/LRI"},{"d":157.47,"v":0.048,"s":"GPS/LRI"},{"d":157.47,"v":0.043,"s":"GPS/LRI"},{"d":158.77,"v":0.04,"s":"GPS/LRI"},{"d":159.09,"v":0.11,"s":"GPS/LRI"},{"d":159.09,"v":0.096,"s":"GPS/LRI"},{"d":159.49,"v":0.071,"s":"GPS/LRI"},{"d":160.93,"v":0.12,"s":"GPS/LRI"},{"d":162.49,"v":0.27,"s":"GPS/LRI"},{"d":162.49,"v":0.134,"s":"GPS/LRI"},{"d":162.49,"v":0.102,"s":"GPS/LRI"},{"d":162.76,"v":0.189,"s":"GPS/LRI"},{"d":162.76,"v":0.113,"s":"GPS/LRI"},{"d":165.15,"v":0.262,"s":"GPS/LRI"},{"d":165.4,"v":0.174,"s":"GPS/LRI"},{"d":165.4,"v":0.163,"s":"GPS/LRI"},{"d":165.4,"v":0.065,"s":"GPS/LRI"},{"d":167.25,"v":0.073,"s":"GPS/LRI"},{"d":167.71,"v":0.131,"s":"GPS/LRI"},{"d":168.54,"v":0.167,"s":"GPS/LRI"},{"d":168.54,"v":0.145,"s":"GPS/LRI"},{"d":168.73,"v":0.13,"s":"GPS/LRI"},{"d":168.97,"v":0.108,"s":"GPS/LRI"},{"d":168.97,"v":0.077,"s":"GPS/LRI"},{"d":168.97,"v":0.072,"s":"GPS/LRI"},{"d":169.31,"v":0.083,"s":"GPS/LRI"},{"d":169.31,"v":0.08,"s":"GPS/LRI"},{"d":169.78,"v":0.085,"s":"GPS/LRI"},{"d":169.78,"v":0.078,"s":"GPS/LRI"},{"d":169.78,"v":0.071,"s":"GPS/LRI"},{"d":170.44,"v":0.086,"s":"GPS/LRI"},{"d":171.24,"v":0.134,"s":"GPS/LRI"},{"d":171.24,"v":0.096,"s":"GPS/LRI"},{"d":171.39,"v":0.143,"s":"GPS/LRI"},{"d":172.59,"v":0.08,"s":"GPS/LRI"},{"d":173.51,"v":0.196,"s":"GPS/LRI"},{"d":173.51,"v":0.19,"s":"GPS/LRI"},{"d":173.51,"v":0.171,"s":"GPS/LRI"},{"d":173.72,"v":0.145,"s":"GPS/LRI"},{"d":173.72,"v":0.093,"s":"GPS/LRI"},{"d":175.02,"v":0.188,"s":"GPS/LRI"},{"d":175.02,"v":0.142,"s":"GPS/LRI"},{"d":175.02,"v":0.126,"s":"GPS/LRI"},{"d":175.02,"v":0.099,"s":"GPS/LRI"},{"d":175.02,"v":0.09,"s":"GPS/LRI"},{"d":175.02,"v":0.082,"s":"GPS/LRI"},{"d":175.02,"v":0.063,"s":"GPS/LRI"},{"d":175.2,"v":0.083,"s":"GPS/LRI"},{"d":175.65,"v":0.09,"s":"GPS/LRI"},{"d":176.35,"v":0.073,"s":"GPS/LRI"},{"d":179.04,"v":0.118,"s":"GPS/LRI"},{"d":179.31,"v":0.09,"s":"GPS/LRI"},{"d":181.75,"v":0.225,"s":"GPS/LRI"},{"d":181.75,"v":0.221,"s":"GPS/LRI"},{"d":181.75,"v":0.109,"s":"GPS/LRI"},{"d":180.4,"v":0.071,"s":"GPS/LRI"},
{"d":150.98,"v":-0.024,"s":"GPS/LRI"},{"d":150.98,"v":-0.071,"s":"GPS/LRI"},{"d":151.32,"v":-0.061,"s":"GPS/LRI"},{"d":151.61,"v":-0.091,"s":"GPS/LRI"},{"d":153.15,"v":-0.073,"s":"GPS/LRI"},{"d":153.15,"v":-0.083,"s":"GPS/LRI"},{"d":153.15,"v":-0.089,"s":"GPS/LRI"},{"d":153.15,"v":-0.094,"s":"GPS/LRI"},{"d":153.15,"v":-0.1,"s":"GPS/LRI"},{"d":153.15,"v":-0.106,"s":"GPS/LRI"},{"d":153.34,"v":-0.083,"s":"GPS/LRI"},{"d":154.57,"v":-0.071,"s":"GPS/LRI"},{"d":155.3,"v":-0.138,"s":"GPS/LRI"},{"d":155.85,"v":-0.049,"s":"GPS/LRI"},{"d":158.36,"v":-0.132,"s":"GPS/LRI"},{"d":158.89,"v":-0.112,"s":"GPS/LRI"},{"d":158.89,"v":-0.12,"s":"GPS/LRI"},{"d":158.91,"v":-0.162,"s":"GPS/LRI"},{"d":158.85,"v":-0.055,"s":"GPS/LRI"},{"d":164.63,"v":-0.083,"s":"GPS/LRI"},{"d":164.63,"v":-0.091,"s":"GPS/LRI"},{"d":164.63,"v":-0.101,"s":"GPS/LRI"},{"d":164.63,"v":-0.109,"s":"GPS/LRI"},{"d":164.63,"v":-0.121,"s":"GPS/LRI"},{"d":164.63,"v":-0.127,"s":"GPS/LRI"},{"d":164.63,"v":-0.136,"s":"GPS/LRI"},{"d":164.63,"v":-0.149,"s":"GPS/LRI"},{"d":164.98,"v":-0.091,"s":"GPS/LRI"},{"d":165.48,"v":-0.068,"s":"GPS/LRI"},{"d":169.09,"v":-0.084,"s":"GPS/LRI"},{"d":168.92,"v":-0.13,"s":"GPS/LRI"},{"d":169.23,"v":-0.133,"s":"GPS/LRI"},{"d":169.92,"v":-0.107,"s":"GPS/LRI"},{"d":169.92,"v":-0.113,"s":"GPS/LRI"},{"d":170.9,"v":-0.092,"s":"GPS/LRI"},{"d":172.06,"v":-0.166,"s":"GPS/LRI"},{"d":172.06,"v":-0.173,"s":"GPS/LRI"},{"d":172.06,"v":-0.178,"s":"GPS/LRI"},{"d":173.49,"v":-0.148,"s":"GPS/LRI"},{"d":173.49,"v":-0.196,"s":"GPS/LRI"},{"d":173.49,"v":-0.096,"s":"GPS/LRI"},{"d":173.49,"v":-0.103,"s":"GPS/LRI"},{"d":173.2,"v":-0.094,"s":"GPS/LRI"},{"d":173.2,"v":-0.102,"s":"GPS/LRI"},{"d":173.2,"v":-0.107,"s":"GPS/LRI"},{"d":174.12,"v":-0.092,"s":"GPS/LRI"},{"d":175.02,"v":-0.119,"s":"GPS/LRI"},{"d":175.02,"v":-0.124,"s":"GPS/LRI"},{"d":175.02,"v":-0.136,"s":"GPS/LRI"},{"d":175.02,"v":-0.199,"s":"GPS/LRI"},{"d":175.53,"v":-0.082,"s":"GPS/LRI"},{"d":176.25,"v":-0.068,"s":"GPS/LRI"},{"d":176.25,"v":-0.075,"s":"GPS/LRI"},{"d":181.23,"v":-0.093,"s":"GPS/LRI"},{"d":173.49,"v":-0.224,"s":"GPS/LRI"},{"d":173.49,"v":-0.233,"s":"GPS/LRI"},{"d":173.7,"v":-0.224,"s":"GPS/LRI"},{"d":173.7,"v":-0.226,"s":"GPS/LRI"},{"d":173.7,"v":-0.234,"s":"GPS/LRI"},{"d":173.7,"v":-0.258,"s":"GPS/LRI"},{"d":173.7,"v":-0.291,"s":"GPS/LRI"},{"d":173.7,"v":-0.298,"s":"GPS/LRI"},{"d":173.49,"v":-0.296,"s":"GPS/LRI"}
],
"orgStr":[
{"d":152.0,"a":0.129,"b":0.149},{"d":152.33,"a":0.066,"b":0.088},{"d":152.33,"a":0.052,"b":0.059},{"d":153.14,"a":0.06,"b":0.081},{"d":153.46,"a":0.109,"b":0.129},{"d":153.85,"a":0.026,"b":0.043},{"d":154.93,"a":0.098,"b":0.105},{"d":155.5,"a":0.105,"b":0.125},{"d":155.5,"a":0.075,"b":0.095},{"d":155.5,"a":0.028,"b":0.041},{"d":157.01,"a":0.073,"b":0.081},{"d":158.1,"a":0.029,"b":0.042},{"d":158.77,"a":0.049,"b":0.06},{"d":159.55,"a":0.216,"b":0.226},{"d":160.53,"a":0.101,"b":0.126},{"d":160.32,"a":0.032,"b":0.054},{"d":160.93,"a":0.128,"b":0.137},{"d":160.93,"a":0.105,"b":0.111},{"d":161.22,"a":0.085,"b":0.092},{"d":161.22,"a":0.037,"b":0.052},{"d":162.49,"a":0.043,"b":0.088},{"d":162.49,"a":0.165,"b":0.171},{"d":162.76,"a":0.054,"b":0.082},{"d":164.17,"a":0.06,"b":0.08},{"d":164.6,"a":0.03,"b":0.055},{"d":164.86,"a":0.132,"b":0.154},{"d":164.71,"a":0.093,"b":0.12},{"d":165.15,"a":0.219,"b":0.255},
{"d":167.71,"a":0.137,"b":0.143},{"d":167.71,"a":0.12,"b":0.125},{"d":170.7,"a":0.105,"b":0.136},{"d":170.7,"a":0.081,"b":0.1},{"d":170.7,"a":0.062,"b":0.077},{"d":171.24,"a":0.189,"b":0.208},{"d":171.24,"a":0.164,"b":0.184},{"d":171.24,"a":0.152,"b":0.158},{"d":171.24,"a":0.141,"b":0.147},{"d":171.24,"a":0.075,"b":0.084},{"d":171.39,"a":0.106,"b":0.129},{"d":171.97,"a":0.11,"b":0.114},{"d":173.14,"a":0.032,"b":0.06},{"d":173.28,"a":0.102,"b":0.108},{"d":173.51,"a":0.179,"b":0.185},{"d":173.51,"a":0.128,"b":0.165},{"d":173.51,"a":0.113,"b":0.12},{"d":173.51,"a":0.054,"b":0.105},{"d":173.72,"a":0.126,"b":0.135},{"d":174.47,"a":0.032,"b":0.066},{"d":175.94,"a":0.073,"b":0.105},{"d":176.35,"a":0.084,"b":0.1},{"d":177.92,"a":0.088,"b":0.109},{"d":178.29,"a":0.062,"b":0.07},{"d":179.31,"a":0.097,"b":0.102},{"d":180.65,"a":0.054,"b":0.107},{"d":180.69,"a":0.022,"b":0.054},{"d":181.75,"a":0.115,"b":0.119},
{"d":151.92,"a":-0.043,"b":-0.024},{"d":152.56,"a":-0.061,"b":-0.055},{"d":152.56,"a":-0.09,"b":-0.081},{"d":153.58,"a":-0.05,"b":-0.042},{"d":154.52,"a":-0.102,"b":-0.094},{"d":156.49,"a":-0.215,"b":-0.187},{"d":156.74,"a":-0.075,"b":-0.064},{"d":158.36,"a":-0.192,"b":-0.177},{"d":162.09,"a":-0.111,"b":-0.085},{"d":162.09,"a":-0.074,"b":-0.053},{"d":163.76,"a":-0.108,"b":-0.1},{"d":164.98,"a":-0.071,"b":-0.061},
{"d":167.21,"a":-0.063,"b":-0.048},{"d":168.48,"a":-0.056,"b":-0.045},{"d":169.88,"a":-0.09,"b":-0.086},{"d":170.09,"a":-0.084,"b":-0.077},{"d":170.49,"a":-0.122,"b":-0.105},{"d":170.72,"a":-0.1,"b":-0.071},{"d":171.97,"a":-0.082,"b":-0.069},{"d":172.68,"a":-0.106,"b":-0.099},{"d":173.49,"a":-0.089,"b":-0.073},{"d":173.7,"a":-0.28,"b":-0.264},{"d":173.7,"a":-0.252,"b":-0.242},{"d":173.95,"a":-0.072,"b":-0.064},{"d":175.02,"a":-0.116,"b":-0.111},{"d":175.02,"a":-0.064,"b":-0.056},{"d":175.02,"a":-0.078,"b":-0.073},{"d":175.53,"a":-0.124,"b":-0.119},{"d":175.53,"a":-0.134,"b":-0.13},{"d":176.02,"a":-0.089,"b":-0.082},{"d":177.84,"a":-0.09,"b":-0.085},{"d":178.65,"a":-0.083,"b":-0.053},{"d":181.52,"a":-0.085,"b":-0.074}
],
"orgBase":[
{"d":151.0,"a":-0.006,"b":0.005},{"d":151.35,"a":-0.008,"b":0.012},{"d":151.7,"a":-0.006,"b":0.01},{"d":152.05,"a":-0.01,"b":0.012},{"d":152.4,"a":-0.006,"b":0.011},{"d":152.75,"a":-0.008,"b":0.008},{"d":153.1,"a":-0.007,"b":0.01},{"d":153.45,"a":-0.018,"b":0.01},{"d":153.8,"a":-0.006,"b":0.01},{"d":154.15,"a":-0.006,"b":0.012},{"d":154.5,"a":-0.012,"b":0.012},{"d":154.85,"a":-0.006,"b":0.01},{"d":155.2,"a":-0.008,"b":0.01},{"d":155.55,"a":-0.007,"b":0.014},{"d":155.9,"a":-0.01,"b":0.028},{"d":156.25,"a":-0.008,"b":0.012},{"d":156.6,"a":-0.012,"b":0.012},{"d":156.95,"a":-0.024,"b":0.014},{"d":157.3,"a":-0.006,"b":0.012},{"d":157.65,"a":-0.006,"b":0.012},{"d":158.0,"a":-0.008,"b":0.012},{"d":158.35,"a":-0.008,"b":0.014},{"d":158.7,"a":-0.012,"b":0.012},{"d":159.05,"a":-0.008,"b":0.018},{"d":159.4,"a":-0.016,"b":0.012},{"d":159.75,"a":-0.008,"b":0.012},{"d":160.1,"a":-0.01,"b":0.014},{"d":160.45,"a":-0.008,"b":0.012},{"d":160.8,"a":-0.01,"b":0.012},{"d":161.15,"a":-0.008,"b":0.012},{"d":161.5,"a":-0.01,"b":0.026},{"d":161.85,"a":-0.012,"b":0.012},{"d":162.2,"a":-0.03,"b":0.015},{"d":162.55,"a":-0.042,"b":0.04},{"d":162.9,"a":-0.02,"b":0.015},{"d":163.25,"a":-0.01,"b":0.012},{"d":163.6,"a":-0.008,"b":0.014},{"d":163.95,"a":-0.008,"b":0.014},{"d":164.3,"a":-0.008,"b":0.012},{"d":164.65,"a":-0.008,"b":0.016},{"d":165.0,"a":-0.008,"b":0.024},{"d":165.35,"a":-0.01,"b":0.012},{"d":165.7,"a":-0.008,"b":0.012},{"d":166.05,"a":-0.008,"b":0.012},{"d":166.4,"a":-0.01,"b":0.012},{"d":166.75,"a":-0.008,"b":0.014},{"d":167.1,"a":-0.012,"b":0.012},{"d":167.45,"a":-0.008,"b":0.012},{"d":167.8,"a":-0.006,"b":0.012},{"d":168.15,"a":-0.018,"b":0.016},{"d":168.5,"a":-0.024,"b":0.03},{"d":168.85,"a":-0.012,"b":0.015},{"d":169.2,"a":-0.008,"b":0.012},{"d":169.55,"a":-0.008,"b":0.016},{"d":169.9,"a":-0.006,"b":0.012},{"d":170.25,"a":-0.01,"b":0.012},{"d":170.6,"a":-0.012,"b":0.01},{"d":170.95,"a":-0.01,"b":0.014},{"d":171.3,"a":-0.012,"b":0.012},{"d":171.65,"a":-0.008,"b":0.012},{"d":172.0,"a":-0.012,"b":0.014},{"d":172.35,"a":-0.014,"b":0.012},{"d":172.7,"a":-0.012,"b":0.03},{"d":173.05,"a":-0.012,"b":0.02},{"d":173.3,"a":-0.012,"b":0.056},{"d":173.6,"a":-0.03,"b":0.06},{"d":173.95,"a":-0.024,"b":0.02},{"d":174.3,"a":-0.014,"b":0.03},{"d":174.55,"a":-0.02,"b":0.06},{"d":174.9,"a":-0.012,"b":0.014},{"d":175.25,"a":-0.01,"b":0.016},{"d":175.6,"a":-0.014,"b":0.014},{"d":175.95,"a":-0.01,"b":0.014},{"d":176.3,"a":-0.01,"b":0.012},{"d":176.65,"a":-0.01,"b":0.014},{"d":177.0,"a":-0.008,"b":0.012},{"d":177.33,"a":-0.008,"b":0.016},{"d":177.68,"a":-0.035,"b":-0.004},{"d":178.05,"a":0.004,"b":0.03},{"d":178.4,"a":0.004,"b":0.03},{"d":178.72,"a":-0.01,"b":0.014},{"d":179.05,"a":-0.014,"b":0.012},{"d":179.4,"a":-0.016,"b":0.012},{"d":179.75,"a":-0.008,"b":0.014},{"d":180.1,"a":-0.01,"b":0.012},{"d":180.45,"a":-0.024,"b":0.012},{"d":180.8,"a":-0.008,"b":0.012},{"d":181.15,"a":-0.01,"b":0.012},{"d":181.5,"a":-0.018,"b":0.012},{"d":181.85,"a":-0.014,"b":0.014},{"d":182.0,"a":-0.01,"b":0.012}
],
"satRuns":[
{"n":8,"d":150.97,"d2":182.03},{"n":7,"d":150.97,"d2":182.03},{"n":6,"d":150.97,"d2":182.03},{"n":5,"d":151.0,"d2":182.03},{"n":4,"d":150.98,"d2":182.0},
{"n":9,"d":151.0,"d2":154.98},{"n":9,"d":155.04,"d2":156.74},{"n":9,"d":156.81,"d2":157.99},{"n":9,"d":158.1,"d2":158.28},{"n":9,"d":158.39,"d2":158.57},{"n":9,"d":158.68,"d2":161.16},{"n":9,"d":161.22,"d2":162.86},{"n":9,"d":163.01,"d2":166.21},{"n":9,"d":166.28,"d2":168.54},{"n":9,"d":168.63,"d2":171.88},{"n":9,"d":172.06,"d2":172.61},{"n":9,"d":172.68,"d2":174.2},{"n":9,"d":174.3,"d2":177.69},{"n":9,"d":177.77,"d2":177.89},{"n":9,"d":178.02,"d2":178.41},{"n":9,"d":178.56,"d2":182.03}
],
"satPts":[
{"d":151.17,"n":3,"s":"number of satllites"},{"d":151.25,"n":3,"s":"number of satllites"},{"d":151.35,"n":3,"s":"number of satllites"},{"d":151.43,"n":3,"s":"number of satllites"},{"d":151.77,"n":3,"s":"number of satllites"},{"d":151.87,"n":3,"s":"number of satllites"},{"d":151.96,"n":3,"s":"number of satllites"},{"d":152.1,"n":3,"s":"number of satllites"},{"d":152.41,"n":3,"s":"number of satllites"},{"d":152.65,"n":3,"s":"number of satllites"},{"d":152.88,"n":3,"s":"number of satllites"},{"d":152.99,"n":3,"s":"number of satllites"},{"d":153.08,"n":3,"s":"number of satllites"},{"d":153.39,"n":3,"s":"number of satllites"},{"d":153.71,"n":3,"s":"number of satllites"},{"d":154.0,"n":3,"s":"number of satllites"},{"d":154.06,"n":3,"s":"number of satllites"},{"d":154.5,"n":3,"s":"number of satllites"},{"d":154.59,"n":3,"s":"number of satllites"},{"d":154.7,"n":3,"s":"number of satllites"},{"d":154.81,"n":3,"s":"number of satllites"},{"d":154.89,"n":3,"s":"number of satllites"},{"d":155.01,"n":3,"s":"number of satllites"},{"d":155.35,"n":3,"s":"number of satllites"},{"d":155.45,"n":3,"s":"number of satllites"},{"d":155.56,"n":3,"s":"number of satllites"},{"d":155.68,"n":3,"s":"number of satllites"},{"d":155.79,"n":3,"s":"number of satllites"},{"d":155.91,"n":3,"s":"number of satllites"},{"d":156.31,"n":3,"s":"number of satllites"},{"d":156.89,"n":3,"s":"number of satllites"},{"d":156.97,"n":3,"s":"number of satllites"},{"d":157.16,"n":3,"s":"number of satllites"},{"d":157.27,"n":3,"s":"number of satllites"},{"d":157.41,"n":3,"s":"number of satllites"},{"d":157.53,"n":3,"s":"number of satllites"},{"d":157.62,"n":3,"s":"number of satllites"},{"d":158.08,"n":3,"s":"number of satllites"},{"d":158.4,"n":3,"s":"number of satllites"},{"d":158.54,"n":3,"s":"number of satllites"},{"d":159.0,"n":3,"s":"number of satllites"},{"d":159.14,"n":3,"s":"number of satllites"},{"d":159.26,"n":3,"s":"number of satllites"},{"d":160.07,"n":3,"s":"number of satllites"},{"d":160.18,"n":3,"s":"number of satllites"},{"d":160.3,"n":3,"s":"number of satllites"},{"d":160.41,"n":3,"s":"number of satllites"},{"d":160.53,"n":3,"s":"number of satllites"},{"d":160.64,"n":3,"s":"number of satllites"},{"d":160.97,"n":3,"s":"number of satllites"},{"d":161.2,"n":3,"s":"number of satllites"},{"d":161.45,"n":3,"s":"number of satllites"},{"d":161.94,"n":3,"s":"number of satllites"},{"d":162.03,"n":3,"s":"number of satllites"},{"d":162.26,"n":3,"s":"number of satllites"},{"d":162.82,"n":3,"s":"number of satllites"},{"d":163.53,"n":3,"s":"number of satllites"},{"d":163.65,"n":3,"s":"number of satllites"},{"d":164.17,"n":3,"s":"number of satllites"},{"d":164.66,"n":3,"s":"number of satllites"},{"d":164.78,"n":3,"s":"number of satllites"},{"d":164.89,"n":3,"s":"number of satllites"},{"d":164.98,"n":3,"s":"number of satllites"},{"d":165.24,"n":3,"s":"number of satllites"},
{"d":165.43,"n":3,"s":"number of satllites"},{"d":165.6,"n":3,"s":"number of satllites"},{"d":165.77,"n":3,"s":"number of satllites"},{"d":166.0,"n":3,"s":"number of satllites"},{"d":166.12,"n":3,"s":"number of satllites"},{"d":166.29,"n":3,"s":"number of satllites"},{"d":166.6,"n":3,"s":"number of satllites"},{"d":166.75,"n":3,"s":"number of satllites"},{"d":167.33,"n":3,"s":"number of satllites"},{"d":167.48,"n":3,"s":"number of satllites"},{"d":168.05,"n":3,"s":"number of satllites"},{"d":168.14,"n":3,"s":"number of satllites"},{"d":168.36,"n":3,"s":"number of satllites"},{"d":168.62,"n":3,"s":"number of satllites"},{"d":168.86,"n":3,"s":"number of satllites"},{"d":169.66,"n":3,"s":"number of satllites"},{"d":169.89,"n":3,"s":"number of satllites"},{"d":170.0,"n":3,"s":"number of satllites"},{"d":170.15,"n":3,"s":"number of satllites"},{"d":170.72,"n":3,"s":"number of satllites"},{"d":170.95,"n":3,"s":"number of satllites"},{"d":171.07,"n":3,"s":"number of satllites"},{"d":171.19,"n":3,"s":"number of satllites"},{"d":171.36,"n":3,"s":"number of satllites"},{"d":171.47,"n":3,"s":"number of satllites"},{"d":171.76,"n":3,"s":"number of satllites"},{"d":171.93,"n":3,"s":"number of satllites"},{"d":172.05,"n":3,"s":"number of satllites"},{"d":172.16,"n":3,"s":"number of satllites"},{"d":172.28,"n":3,"s":"number of satllites"},{"d":172.39,"n":3,"s":"number of satllites"},{"d":172.51,"n":3,"s":"number of satllites"},{"d":172.63,"n":3,"s":"number of satllites"},{"d":172.74,"n":3,"s":"number of satllites"},{"d":173.03,"n":3,"s":"number of satllites"},{"d":173.34,"n":3,"s":"number of satllites"},{"d":173.66,"n":3,"s":"number of satllites"},{"d":173.83,"n":3,"s":"number of satllites"},{"d":174.2,"n":3,"s":"number of satllites"},{"d":174.41,"n":3,"s":"number of satllites"},{"d":174.58,"n":3,"s":"number of satllites"},{"d":174.73,"n":3,"s":"number of satllites"},{"d":174.89,"n":3,"s":"number of satllites"},{"d":175.19,"n":3,"s":"number of satllites"},{"d":175.33,"n":3,"s":"number of satllites"},{"d":176.0,"n":3,"s":"number of satllites"},{"d":176.14,"n":3,"s":"number of satllites"},{"d":176.35,"n":3,"s":"number of satllites"},{"d":176.46,"n":3,"s":"number of satllites"},{"d":176.6,"n":3,"s":"number of satllites"},{"d":177.04,"n":3,"s":"number of satllites"},{"d":177.18,"n":3,"s":"number of satllites"},{"d":177.31,"n":3,"s":"number of satllites"},{"d":177.43,"n":3,"s":"number of satllites"},{"d":177.54,"n":3,"s":"number of satllites"},{"d":177.66,"n":3,"s":"number of satllites"},{"d":177.84,"n":3,"s":"number of satllites"},{"d":178.1,"n":3,"s":"number of satllites"},{"d":178.21,"n":3,"s":"number of satllites"},{"d":178.33,"n":3,"s":"number of satllites"},{"d":178.44,"n":3,"s":"number of satllites"},{"d":178.56,"n":3,"s":"number of satllites"},{"d":178.7,"n":3,"s":"number of satllites"},{"d":178.85,"n":3,"s":"number of satllites"},{"d":179.13,"n":3,"s":"number of satllites"},{"d":179.27,"n":3,"s":"number of satllites"},{"d":179.39,"n":3,"s":"number of satllites"},{"d":179.5,"n":3,"s":"number of satllites"},{"d":179.79,"n":3,"s":"number of satllites"},{"d":180.03,"n":3,"s":"number of satllites"},{"d":180.42,"n":3,"s":"number of satllites"},{"d":180.54,"n":3,"s":"number of satllites"},{"d":180.69,"n":3,"s":"number of satllites"},{"d":181.55,"n":3,"s":"number of satllites"},{"d":181.67,"n":3,"s":"number of satllites"},{"d":181.78,"n":3,"s":"number of satllites"},{"d":181.92,"n":3,"s":"number of satllites"},
{"d":151.23,"n":2,"s":"number of satllites"},{"d":153.04,"n":2,"s":"number of satllites"},{"d":153.39,"n":2,"s":"number of satllites"},{"d":155.59,"n":2,"s":"number of satllites"},{"d":155.74,"n":2,"s":"number of satllites"},{"d":155.93,"n":2,"s":"number of satllites"},{"d":157.47,"n":2,"s":"number of satllites"},{"d":158.53,"n":2,"s":"number of satllites"},{"d":160.15,"n":2,"s":"number of satllites"},{"d":162.82,"n":2,"s":"number of satllites"},{"d":163.55,"n":2,"s":"number of satllites"},{"d":164.66,"n":2,"s":"number of satllites"},{"d":164.86,"n":2,"s":"number of satllites"},{"d":164.92,"n":2,"s":"number of satllites"},{"d":165.43,"n":2,"s":"number of satllites"},{"d":167.29,"n":2,"s":"number of satllites"},{"d":167.5,"n":2,"s":"number of satllites"},{"d":169.98,"n":2,"s":"number of satllites"},{"d":171.12,"n":2,"s":"number of satllites"},{"d":171.39,"n":2,"s":"number of satllites"},{"d":172.13,"n":2,"s":"number of satllites"},{"d":172.28,"n":2,"s":"number of satllites"},{"d":172.57,"n":2,"s":"number of satllites"},{"d":173.32,"n":2,"s":"number of satllites"},{"d":173.83,"n":2,"s":"number of satllites"},{"d":174.87,"n":2,"s":"number of satllites"},{"d":177.69,"n":2,"s":"number of satllites"},{"d":177.87,"n":2,"s":"number of satllites"},{"d":180.03,"n":2,"s":"number of satllites"}
]
},
"vconcat":[
{
"width":1831,"height":1444,
"resolve":{"axis":{"x":"independent","y":"independent"}},
"layer":[
{"data":{"name":"band"},"mark":{"type":"rect","color":"#0072BD"},
"encoding":{
"x":{"field":"d","type":"quantitative","scale":{"domain":[151,182],"nice":false,"zero":false},"axis":{"orient":"bottom","values":[151,157.2,163.4,169.6,175.8,182],"labelExpr":"ceil(datum.value)","labelPadding":56}},
"x2":{"field":"d2"},
"y":{"field":"lo","type":"quantitative","scale":{"domain":[-0.3,0.3],"nice":false,"zero":false},"axis":{"orient":"left","values":[-0.3,-0.275,-0.25,-0.225,-0.2,-0.175,-0.15,-0.125,-0.1,-0.075,-0.05,-0.025,0,0.025,0.05,0.075,0.1,0.125,0.15,0.175,0.2,0.225,0.25,0.275,0.3],"labelExpr":"''+datum.value","labelPadding":45}},
"y2":{"field":"hi"}}},
{"data":{"name":"blueEnv"},"mark":{"type":"rule","color":"#0072BD","strokeWidth":12,"strokeCap":"round"},
"encoding":{
"x":{"field":"d","type":"quantitative","axis":{"orient":"top","values":[151,157.2,163.4,169.6,175.8,182],"labels":false}},
"y":{"field":"v","type":"quantitative","axis":{"orient":"right","values":[-0.3,-0.275,-0.25,-0.225,-0.2,-0.175,-0.15,-0.125,-0.1,-0.075,-0.05,-0.025,0,0.025,0.05,0.075,0.1,0.125,0.15,0.175,0.2,0.225,0.25,0.275,0.3],"labels":false}},
"y2":{"datum":0}}},
{"data":{"name":"blueStr"},"mark":{"type":"rule","color":"#0072BD","strokeWidth":9,"strokeCap":"round"},
"encoding":{"x":{"field":"d","type":"quantitative","axis":null},"y":{"field":"a","type":"quantitative","axis":null},"y2":{"field":"b"}}},
{"data":{"name":"pts"},"mark":{"type":"point","filled":true,"size":110,"opacity":1},
"encoding":{
"x":{"field":"d","type":"quantitative","axis":null},
"y":{"field":"v","type":"quantitative","axis":null},
"color":{"field":"s","type":"nominal","scale":{"domain":["GPS-only","GPS/LRI"],"range":["#0072BD","#D95319"]},
"legend":{"title":null,"orient":"none","legendX":60,"legendY":54,"fillColor":"white","strokeColor":"#262626","cornerRadius":0,"padding":17,"symbolOffset":36,"symbolType":"circle","symbolSize":110,"labelFont":"Liberation Sans","labelFontSize":51,"labelColor":"#000000","labelOffset":47,"labelLimit":700,"rowPadding":19}}}},
{"data":{"name":"orgStr"},"mark":{"type":"rule","color":"#D95319","strokeWidth":9,"strokeCap":"round"},
"encoding":{"x":{"field":"d","type":"quantitative","axis":null},"y":{"field":"a","type":"quantitative","axis":null},"y2":{"field":"b"}}},
{"data":{"name":"orgBase"},"mark":{"type":"rule","color":"#D95319","strokeWidth":22,"strokeCap":"butt"},
"encoding":{"x":{"field":"d","type":"quantitative","axis":null},"y":{"field":"a","type":"quantitative","axis":null},"y2":{"field":"b"}}}
]
},
{
"width":1831,"height":1445,
"resolve":{"axis":{"x":"independent","y":"independent"}},
"layer":[
{"data":{"name":"satRuns"},"mark":{"type":"rule","color":"#0072BD","strokeWidth":12,"strokeCap":"butt"},
"encoding":{
"x":{"field":"d","type":"quantitative","scale":{"domain":[151,182],"nice":false,"zero":false},"axis":{"orient":"bottom","values":[151,157.2,163.4,169.6,175.8,182],"labelExpr":"ceil(datum.value)","labelPadding":56}},
"x2":{"field":"d2"},
"y":{"field":"n","type":"quantitative","scale":{"domain":[0,11],"nice":false,"zero":false},"axis":{"orient":"left","values":[0,1,2,3,4,5,6,7,8,9,10,11],"labelPadding":45}}}},
{"data":{"name":"satPts"},"mark":{"type":"point","filled":true,"size":110,"opacity":1},
"encoding":{
"x":{"field":"d","type":"quantitative","axis":{"orient":"top","values":[151,157.2,163.4,169.6,175.8,182],"labels":false}},
"y":{"field":"n","type":"quantitative","axis":{"orient":"right","values":[0,1,2,3,4,5,6,7,8,9,10,11],"labels":false}},
"color":{"field":"s","type":"nominal","scale":{"domain":["number of satllites"],"range":["#0072BD"]},
"legend":{"title":null,"orient":"none","legendX":60,"legendY":53,"fillColor":"white","strokeColor":"#262626","cornerRadius":0,"padding":17,"symbolOffset":36,"symbolType":"circle","symbolSize":110,"labelFont":"Liberation Sans","labelFontSize":51,"labelColor":"#000000","labelOffset":47,"labelLimit":700}}}}
]
}
]
}
